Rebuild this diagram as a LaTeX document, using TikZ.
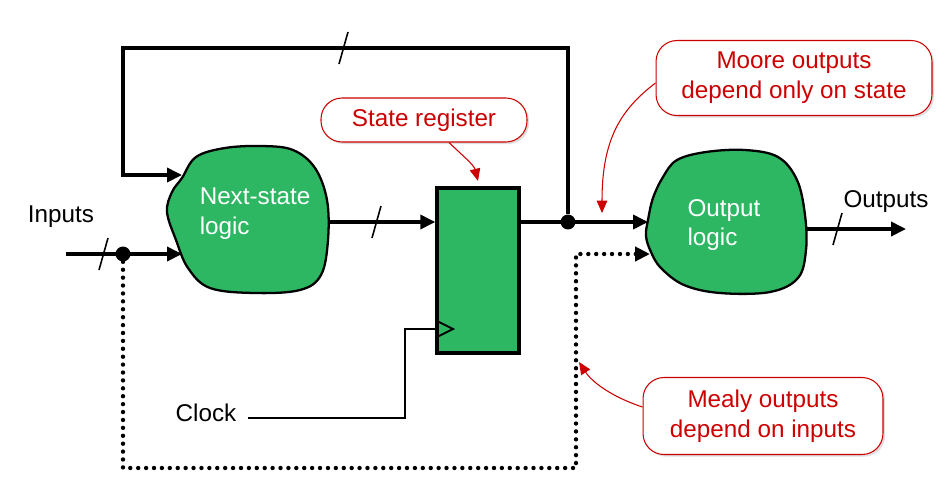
\documentclass[tikz,border=0pt]{standalone}
\usepackage{fontspec}
\setmainfont{Liberation Sans}
\usetikzlibrary{positioning,arrows.meta,shadows}
\definecolor{logicG}{RGB}{45,183,99}
\definecolor{noteR}{RGB}{204,0,0}

\begin{document}
\begin{tikzpicture}[
	x=0.02cm,y=-0.02cm,
	wire/.style={
		line width=1.9pt
	},
	clkwire/.style={
		line width=1.1pt
	},
	dotwire/.style={
		line width=2.5pt,
		line cap=round,
		dash pattern=on 0pt off 4.5pt
	},
	bus/.style={
		line width=0.9pt
	},
	tip/.style={-{Triangle[length=8.5pt,width=8pt]}},
	blob/.style={
		draw,
		fill=logicG,
		line width=1.3pt
	},
	lbl/.style={
		font=\fontsize{13.8}{17}\selectfont,
		inner sep=0pt
	},
	jdot/.style={
		circle,
		fill,
		inner sep=0pt,
		minimum size=8.5pt
	},
	note/.style={
		draw=noteR,
		line width=0.6pt,
		fill=white,
		rounded corners=0.42cm,
		text=noteR,
		align=center,
		font=\fontsize{13.8}{17}\selectfont,
		drop shadow={shadow xshift=1.2pt,shadow yshift=-1.2pt,opacity=0.25}
	},
	callarrow/.style={
		draw=noteR,
		line width=0.6pt,
		-{Triangle[length=7pt,width=6pt]},
		noteR
	}
	]
	\useasboundingbox (0,0) rectangle (944,485);

	% logic clouds
	\draw[blob] plot[smooth cycle,tension=0.6] coordinates {
		(182,178) (196,157) (225,148) (262,146) (293,150) (315,168)
		(327,200) (328,240) (321,275) (300,290) (255,293) (210,288)
		(188,268) (176,240) (167,212) (172,192)};
	\draw[blob] plot[smooth cycle,tension=0.6] coordinates {
		(648,220) (653,198) (663,177) (677,160) (706,152) (745,150)
		(778,157) (797,180) (805,215) (806,250) (798,278) (770,292)
		(720,293) (684,285) (661,268) (651,252) (646,236)};

	\node[lbl,text=white,align=left] (nsl) at (255,214) {Next-state\\logic};
	\node[lbl,text=white,align=left] (ol) at (724,225) {Output\\logic};

	\node[draw,fill=logicG,line width=2pt,inner sep=0pt,
		minimum width=1.64cm,minimum height=3.3cm] (reg) at (478,270.5) {};

	\node[lbl] (inlbl) at (61,217) {Inputs};
	\node[lbl] (outlbl) at (886,202) {Outputs};
	\node[lbl] (clklbl) at (206,413) {Clock};

	\coordinate (inL) at (66,254);
	\coordinate (nslin1) at (182,175);
	\coordinate (nslin2) at (182,254);
	\coordinate (nslout) at (329,222);
	\coordinate (olin1) at (648,222);
	\coordinate (olin2) at (650,254);
	\coordinate (olout) at (806,229);
	\coordinate (outR) at (906,229);
	\coordinate (fbR) at (568,48);
	\coordinate (fbL) at (123,48);
	\coordinate (dotC) at (576,468);
	\coordinate (clkL) at (248,418);
	\coordinate (clkC) at (405,418);
	\coordinate (regclk) at (437,329);

	% state path
	\draw[wire,tip] (inL) -- (nslin2);
	\draw[wire,tip] (nslout) -- (reg.west |- nslout);
	\draw[wire,tip] (reg.east |- olin1) -- (olin1);
	\draw[wire,tip] (olout) -- (outR);
	\node[jdot] (indot) at (123,254) {};
	\node[jdot] (stdot) at (568,222) {};
	\draw[wire,tip] (stdot) -- (fbR) -- (fbL) |- (nslin1);
	\draw[dotwire,tip] (indot) |- (dotC) |- (olin2);

	\foreach \bx/\by in {103/254, 343/48, 376/222, 837/229}
		\draw[bus] (\bx-4,\by+16) -- (\bx+5,\by-16);

	% clock
	\draw[clkwire] (clkL) -- (clkC) |- (regclk);
	\draw[clkwire] (regclk) ++(0,-8) -- ++(16,8) -- ++(-16,8);

	% notes
	\node[note,minimum width=4.12cm,minimum height=0.88cm] (cstate) at (424,120) {State register};
	\node[note,minimum width=5.52cm,minimum height=1.5cm] (cmoore) at (794,78) {Moore outputs\\depend only on state};
	\node[note,minimum width=4.8cm,minimum height=1.54cm] (cmealy) at (763,416) {Mealy outputs\\depend on inputs};

	\coordinate (mooreT) at (602,213);
	\coordinate (mealyT) at (579,362);
	\draw[callarrow] ([xshift=0.5cm]cstate.south) .. controls (462,155) and (474,165) .. ([yshift=3pt]reg.north);
	\draw[callarrow] ([yshift=-0.1cm]cmoore.west) .. controls (620,110) and (602,140) .. (mooreT);
	\draw[callarrow] ([yshift=0.18cm]cmealy.west) .. controls (612,397) and (592,382) .. (mealyT);
\end{tikzpicture}
\end{document}
